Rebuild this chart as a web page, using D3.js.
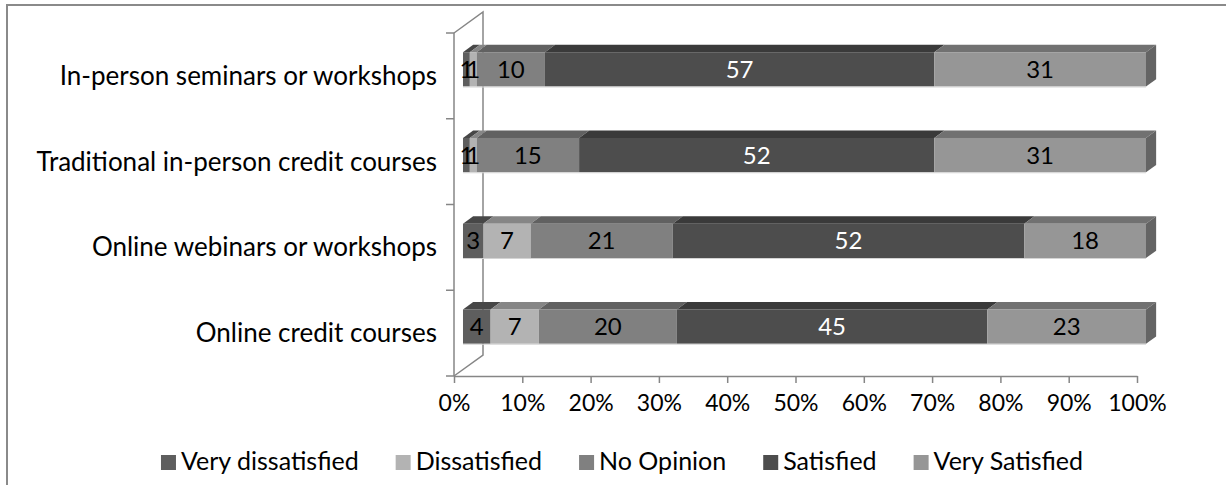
<!DOCTYPE html>
<html>
<head>
<meta charset="utf-8">
<script src="https://cdn.jsdelivr.net/npm/d3@7"></script>
<style>
  body { margin: 0; background: #fff; }
  svg { display: block; }
  text { font-family: Lato, "Open Sans", sans-serif; fill: #000; }
</style>
</head>
<body>
<svg id="chart" width="1226" height="485"></svg>
<script>
// Satisfaction with professional development formats (percent of respondents)
const categories = [
  "In-person seminars or workshops",
  "Traditional in-person credit courses",
  "Online webinars or workshops",
  "Online credit courses"
];
const seriesNames = ["Very dissatisfied", "Dissatisfied", "No Opinion", "Satisfied", "Very Satisfied"];
const veryDissatisfied = [1, 1, 3, 4];
const dissatisfied     = [1, 1, 7, 7];
const noOpinion        = [10, 15, 21, 20];
const satisfied        = [57, 52, 52, 45];
const verySatisfied    = [31, 31, 18, 23];
const tickValues = [0, 0.1, 0.2, 0.3, 0.4, 0.5, 0.6, 0.7, 0.8, 0.9, 1];
const tickLabels = ["0%", "10%", "20%", "30%", "40%", "50%", "60%", "70%", "80%", "90%", "100%"];

// Shades per series: front face, top face, label colour
const frontColors = ["#5e5e5e", "#b3b3b3", "#808080", "#4d4d4d", "#969696"];
const topColors   = ["#474747", "#868686", "#616161", "#3a3a3a", "#717171"];
const sideColors  = ["#474747", "#868686", "#616161", "#3a3a3a", "#646464"];
const labelColors = ["#000", "#000", "#000", "#fff", "#000"];

const seriesValues = [veryDissatisfied, dissatisfied, noOpinion, satisfied, verySatisfied];
const table = categories.map((c, i) => {
  const row = { category: c };
  seriesNames.forEach((s, k) => { row[s] = seriesValues[k][i]; });
  return row;
});

const svg = d3.select("#chart");
const sizes = { category: 26, tick: 23, value: 24, legend: 25 };
const axisColor = "#868686";

// Outer chart border
svg.append("rect")
  .attr("x", 7).attr("y", 5).attr("width", 1260).attr("height", 520)
  .attr("fill", "none").attr("stroke", "#8a8a8a").attr("stroke-width", 2);

// Front-plane scales
const x = d3.scaleLinear().domain([0, 1]).range([454, 1137]);
const y = d3.scaleBand().domain(categories).range([33, 376]).paddingInner(0.6).paddingOuter(0.3);

// Oblique depth projection
const depth = { dx: 29, dy: -21 };
const zFront = 0.31, zBack = 0.66;
const proj = (px, py, z) => [px + z * depth.dx, py + z * depth.dy];

const stack = d3.stack().keys(seriesNames).offset(d3.stackOffsetExpand);
const stacked = stack(table);

// Walls: back vertical edge and depth diagonals
const g = svg.append("g");
const [y0, y1] = y.range();
const backTop = proj(x(0), y0, 1), backBot = proj(x(0), y1, 1);
g.append("path")
  .attr("d", `M${x(0)},${y0}L${backTop[0]},${backTop[1]}L${backBot[0]},${backBot[1]}L${x(0)},${y1}`)
  .attr("fill", "none").attr("stroke", axisColor).attr("stroke-width", 1.5);

// Vertical category axis with tick marks between categories
g.append("line")
  .attr("x1", x(0)).attr("x2", x(0)).attr("y1", y0).attr("y2", y1)
  .attr("stroke", axisColor).attr("stroke-width", 1.5);
const catTicks = d3.range(categories.length + 1).map(i => y0 + i * (y1 - y0) / categories.length);
g.selectAll(".ctick").data(catTicks).join("line")
  .attr("x1", x(0) - 8).attr("x2", x(0)).attr("y1", d => d).attr("y2", d => d)
  .attr("stroke", axisColor).attr("stroke-width", 1.5);

// Horizontal percentage axis
const xAxis = d3.axisBottom(x).tickValues(tickValues).tickFormat((d, i) => tickLabels[i])
  .tickSizeInner(7).tickSizeOuter(0).tickPadding(12);
const ax = svg.append("g").attr("transform", `translate(0,${y1})`).call(xAxis);
ax.select(".domain").attr("stroke", axisColor).attr("stroke-width", 1.5);
ax.selectAll(".tick line").attr("stroke", axisColor).attr("stroke-width", 1.5);
ax.selectAll(".tick text").attr("font-size", sizes.tick).attr("font-family", "Lato, sans-serif").attr("fill", "#000");

// Category labels
svg.append("g").selectAll("text").data(categories).join("text")
  .attr("x", 437).attr("y", d => y(d) + y.bandwidth() / 2)
  .attr("dy", "0.35em").attr("text-anchor", "end").attr("font-size", sizes.category)
  .text(d => d);

// 3D stacked bars
const bars = svg.append("g");
categories.forEach((cat, i) => {
  const top = y(cat), bot = y(cat) + y.bandwidth();
  const row = bars.append("g");
  stacked.forEach((layer, k) => {
    const [a, b] = layer[i];
    const xa = x(a), xb = x(b);
    const fTL = proj(xa, top, zFront), fTR = proj(xb, top, zFront);
    const bTL = proj(xa, top, zBack), bTR = proj(xb, top, zBack);
    const fBL = proj(xa, bot, zFront);
    // top face
    row.append("path")
      .attr("d", `M${fTL}L${fTR}L${bTR}L${bTL}Z`)
      .attr("fill", topColors[k]);
    // front face
    row.append("rect")
      .attr("x", fTL[0]).attr("y", fTL[1])
      .attr("width", Math.max(0, fTR[0] - fTL[0])).attr("height", fBL[1] - fTL[1])
      .attr("fill", frontColors[k]);
  });
  // right end face
  const last = stacked[stacked.length - 1][i];
  const xe = x(last[1]);
  const p1 = proj(xe, top, zFront), p2 = proj(xe, top, zBack),
        p3 = proj(xe, bot, zBack), p4 = proj(xe, bot, zFront);
  row.append("path").attr("d", `M${p1}L${p2}L${p3}L${p4}Z`).attr("fill", sideColors[4]);
  // light lower edge of the bar
  const e1 = proj(x(0), bot, zFront), e2 = proj(xe, bot, zFront);
  row.append("line").attr("x1", e1[0]).attr("x2", e2[0]).attr("y1", e1[1] + 0.5).attr("y2", e2[1] + 0.5)
    .attr("stroke", "#d4d4d4").attr("stroke-width", 1);
  // value labels
  stacked.forEach((layer, k) => {
    const [a, b] = layer[i];
    const c = proj((x(a) + x(b)) / 2, (top + bot) / 2, zFront);
    row.append("text")
      .attr("x", c[0]).attr("y", c[1]).attr("dy", "0.35em")
      .attr("text-anchor", "middle").attr("font-size", sizes.value)
      .style("fill", labelColors[k])
      .text(seriesValues[k][i]);
  });
});

// Legend
const legend = svg.append("g");
let cursor = 0;
seriesNames.forEach((name, k) => {
  const item = legend.append("g").attr("transform", `translate(${cursor},0)`);
  item.append("rect").attr("x", 0).attr("y", -15).attr("width", 15).attr("height", 15)
    .attr("fill", frontColors[k]);
  const t = item.append("text").attr("x", 20).attr("y", 0).attr("font-size", sizes.legend).text(name);
  cursor += 20 + t.node().getComputedTextLength() + 37;
});
const legendWidth = cursor - 37;
legend.attr("transform", `translate(${622 - legendWidth / 2},470)`);
</script>
</body>
</html>
